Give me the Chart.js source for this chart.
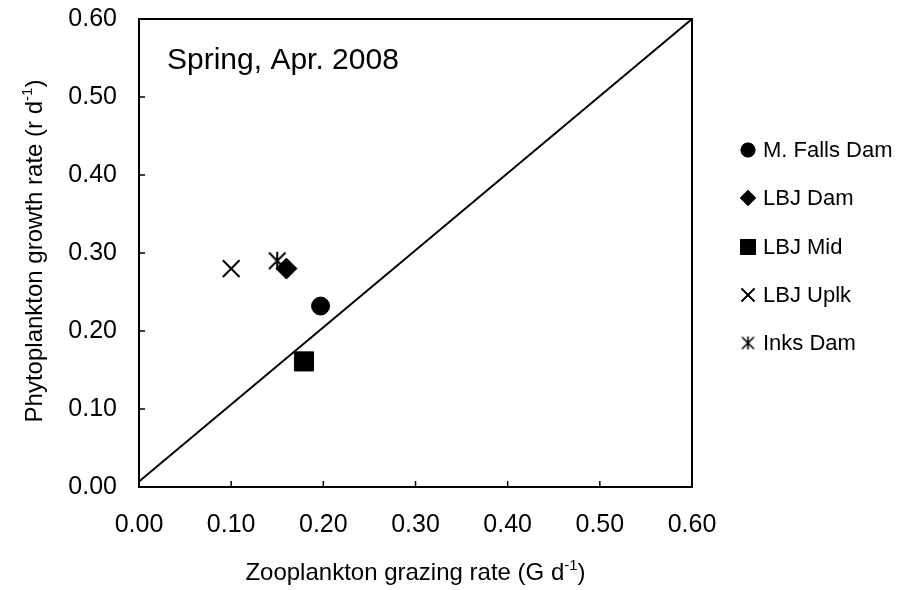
<!DOCTYPE html>
<html>
<head>
<meta charset="utf-8">
<script src="https://cdn.jsdelivr.net/npm/chart.js@4.4.1/dist/chart.umd.min.js"></script>
<style>
  body { margin: 0; background: #fff; }
  #wrap { width: 912px; height: 590px; }
</style>
</head>
<body>
<div id="wrap"><canvas id="chart" width="912" height="590"></canvas></div>
<script>
// ===========================
// Spring, Apr. 2008 — growth vs grazing
// ===========================

const stations = ['M. Falls Dam', 'LBJ Dam', 'LBJ Mid', 'LBJ Uplk', 'Inks Dam']
const grazing = [0.197, 0.160, 0.179, 0.100, 0.150]   // G d-1
const growth = [0.232, 0.280, 0.161, 0.280, 0.290]    // r d-1

// 1:1 reference line
const lineX = [0, 0.60]
const lineY = [0.007, 0.60]

const xTicks = [0, 0.1, 0.2, 0.3, 0.4, 0.5, 0.6]
const xTickLabels = ['0.00', '0.10', '0.20', '0.30', '0.40', '0.50', '0.60']
const yTicks = [0, 0.1, 0.2, 0.3, 0.4, 0.5, 0.6]
const yTickLabels = ['0.00', '0.10', '0.20', '0.30', '0.40', '0.50', '0.60']

const FONT = "'Liberation Sans', Arial, sans-serif"

function asterisk(size, lw) {
  const c = document.createElement('canvas')
  const s = Math.ceil(size + lw * 2)
  c.width = s
  c.height = s
  const g = c.getContext('2d')
  const m = s / 2
  const h = size / 2
  const d = h * 0.92
  g.strokeStyle = '#000'
  g.lineWidth = lw
  g.beginPath()
  g.moveTo(m - d, m - d); g.lineTo(m + d, m + d)
  g.moveTo(m + d, m - d); g.lineTo(m - d, m + d)
  g.moveTo(m, m - h); g.lineTo(m, m + h)
  g.stroke()
  return c
}

// marker look on the plot and in the legend
const markers = [
  { style: 'circle', r: 9, lr: 6.8, bw: 1 },
  { style: 'rectRot', r: 10.5, lr: 7.5, bw: 1 },
  { style: 'rect', r: 13.5, lr: 10.5, bw: 1 },
  { style: 'crossRot', r: 11.8, lr: 9, bw: 2 },
  { style: asterisk(18, 2), legendStyle: asterisk(13, 1.6), r: 9, lr: 6, bw: 2 }
]

const datasets = stations.map((name, i) => ({
  type: 'scatter',
  label: name,
  data: [{ x: grazing[i], y: growth[i] }],
  pointStyle: markers[i].style,
  pointRadius: markers[i].r,
  backgroundColor: '#000',
  borderColor: '#000',
  borderWidth: markers[i].bw,
  order: 0
}))

datasets.push({
  type: 'line',
  label: '1:1',
  data: lineX.map((x, i) => ({ x, y: lineY[i] })),
  borderColor: '#000',
  borderWidth: 2,
  pointRadius: 0,
  fill: false,
  order: 10
})

function drawSupText(ctx, parts, x, y, size, align) {
  // parts: [text, sup, text]
  const big = `${size}px ${FONT}`
  const small = `${Math.round(size * 0.62)}px ${FONT}`
  ctx.font = big
  const w0 = ctx.measureText(parts[0]).width
  const w2 = ctx.measureText(parts[2]).width
  ctx.font = small
  const w1 = ctx.measureText(parts[1]).width
  const total = w0 + w1 + w2
  const start = align === 'center' ? x - total / 2 : x
  ctx.textAlign = 'left'
  ctx.textBaseline = 'alphabetic'
  ctx.font = big
  ctx.fillText(parts[0], start, y)
  ctx.font = small
  ctx.fillText(parts[1], start + w0, y - size * 0.42)
  ctx.font = big
  ctx.fillText(parts[2], start + w0 + w1, y)
}

const decorations = {
  id: 'decorations',
  afterDraw(chart) {
    const { ctx, chartArea: a, scales } = chart
    ctx.save()

    // plot frame
    ctx.strokeStyle = '#000'
    ctx.lineWidth = 2
    ctx.strokeRect(a.left, a.top, a.right - a.left, a.bottom - a.top)

    // inward tick marks
    ctx.lineWidth = 1.5
    ctx.beginPath()
    xTicks.forEach((v) => {
      const px = scales.x.getPixelForValue(v)
      ctx.moveTo(px, a.bottom)
      ctx.lineTo(px, a.bottom - 6)
    })
    yTicks.forEach((v) => {
      const py = scales.y.getPixelForValue(v)
      ctx.moveTo(a.left, py)
      ctx.lineTo(a.left + 6, py)
    })
    ctx.stroke()

    ctx.fillStyle = '#000'

    // season label
    ctx.font = `30px ${FONT}`
    ctx.textAlign = 'left'
    ctx.textBaseline = 'alphabetic'
    ctx.fillText('Spring, Apr. 2008', 167, 69)

    // axis titles
    drawSupText(ctx, ['Zooplankton grazing rate (G d', '-1', ')'], (a.left + a.right) / 2, 580, 24, 'center')
    ctx.save()
    ctx.translate(42, (a.top + a.bottom) / 2 - 2)
    ctx.rotate(-Math.PI / 2)
    drawSupText(ctx, ['Phytoplankton growth rate (r d', '-1', ')'], 0, 0, 24, 'center')
    ctx.restore()

    // legend
    const rowY = [150, 198, 247, 295, 343]
    stations.forEach((name, i) => {
      const m = markers[i]
      Chart.helpers.drawPoint(ctx, {
        pointStyle: m.legendStyle || m.style,
        radius: m.lr,
        rotation: 0,
        borderWidth: m.bw === 2 ? 1.6 : 1
      }, 748, rowY[i])
      ctx.fillStyle = '#000'
      ctx.strokeStyle = '#000'
      ctx.lineWidth = m.bw === 2 ? 1.6 : 1
      if (m.bw === 2) ctx.stroke()
      else { ctx.fill(); ctx.stroke() }
      ctx.font = `22px ${FONT}`
      ctx.textAlign = 'left'
      ctx.textBaseline = 'middle'
      ctx.fillText(name, 763, rowY[i] + 1)
    })

    ctx.restore()
  }
}

new Chart(document.getElementById('chart'), {
  type: 'scatter',
  data: { datasets },
  options: {
    responsive: false,
    animation: false,
    events: [],
    layout: { padding: { left: 0, right: 220, top: 19, bottom: 0 } },
    plugins: {
      legend: { display: false },
      tooltip: { enabled: false }
    },
    scales: {
      x: {
        type: 'linear',
        min: 0,
        max: 0.6,
        afterBuildTicks: (s) => { s.ticks = xTicks.map((v) => ({ value: v })) },
        afterFit: (s) => {
          s.height = 103
          s.paddingLeft = 0
          s.paddingRight = 0
        },
        ticks: {
          callback: (v, i) => xTickLabels[i],
          font: { family: FONT, size: 25 },
          color: '#000',
          padding: 23,
          maxRotation: 0,
          autoSkip: false
        },
        grid: { display: false, drawTicks: false },
        border: { display: false }
      },
      y: {
        type: 'linear',
        min: 0,
        max: 0.6,
        afterBuildTicks: (s) => { s.ticks = yTicks.map((v) => ({ value: v })) },
        afterFit: (s) => {
          s.width = 139
          s.paddingTop = 0
          s.paddingBottom = 0
        },
        ticks: {
          callback: (v, i) => yTickLabels[i],
          font: { family: FONT, size: 25 },
          color: '#000',
          padding: 22,
          autoSkip: false
        },
        grid: { display: false, drawTicks: false },
        border: { display: false }
      }
    }
  },
  plugins: [decorations]
})
</script>
</body>
</html>
